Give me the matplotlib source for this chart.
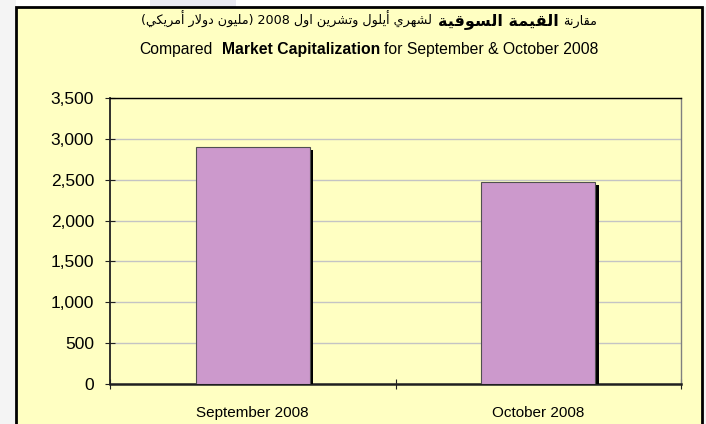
import matplotlib
matplotlib.use('Agg')
import matplotlib.pyplot as plt
import matplotlib.patheffects as pe
from matplotlib.patches import Rectangle
from matplotlib.ticker import FuncFormatter

# data
months = ['September 2008', 'October 2008']
market_cap = [2900, 2470]  # million USD
y_ticks = [0, 500, 1000, 1500, 2000, 2500, 3000, 3500]

# minimal arabic shaping (matplotlib has no bidi / joining support)
FORMS = {  # isolated, final, initial, medial
    'ا': (0xFE8D, 0xFE8E, None, None),
    'أ': (0xFE83, 0xFE84, None, None),
    'ة': (0xFE93, 0xFE94, None, None),
    'ت': (0xFE95, 0xFE96, 0xFE97, 0xFE98),
    'د': (0xFEA9, 0xFEAA, None, None),
    'ر': (0xFEAD, 0xFEAE, None, None),
    'س': (0xFEB1, 0xFEB2, 0xFEB3, 0xFEB4),
    'ش': (0xFEB5, 0xFEB6, 0xFEB7, 0xFEB8),
    'ق': (0xFED5, 0xFED6, 0xFED7, 0xFED8),
    'ك': (0xFED9, 0xFEDA, 0xFEDB, 0xFEDC),
    'ل': (0xFEDD, 0xFEDE, 0xFEDF, 0xFEE0),
    'م': (0xFEE1, 0xFEE2, 0xFEE3, 0xFEE4),
    'ن': (0xFEE5, 0xFEE6, 0xFEE7, 0xFEE8),
    'ه': (0xFEE9, 0xFEEA, 0xFEEB, 0xFEEC),
    'و': (0xFEED, 0xFEEE, None, None),
    'ي': (0xFEF1, 0xFEF2, 0xFEF3, 0xFEF4),
}
LAM_ALEF = {'ا': (0xFEFB, 0xFEFC), 'أ': (0xFEF7, 0xFEF8)}


def vis(word):
    chars = []
    i = 0
    while i < len(word):
        if word[i] == 'ل' and i + 1 < len(word) and word[i + 1] in LAM_ALEF:
            chars.append('LA' + word[i + 1])
            i += 2
        else:
            chars.append(word[i])
            i += 1
    out = []
    for k, c in enumerate(chars):
        prev = chars[k - 1] if k > 0 else None
        nxt = chars[k + 1] if k + 1 < len(chars) else None
        link_prev = prev in FORMS and FORMS[prev][2] is not None
        if c.startswith('LA'):
            iso, fin = LAM_ALEF[c[2]]
            out.append(chr(fin if link_prev else iso))
            continue
        if c not in FORMS:
            out.append(c)
            continue
        f = FORMS[c]
        link_next = f[2] is not None and (nxt in FORMS or (nxt or '').startswith('LA'))
        if link_prev and link_next:
            out.append(chr(f[3]))
        elif link_prev:
            out.append(chr(f[1]))
        elif link_next:
            out.append(chr(f[2]))
        else:
            out.append(chr(f[0]))
    return ''.join(reversed(out))


def vis_phrase(text):
    return ' '.join(vis(w) for w in reversed(text.split(' ')))


title_ar_1 = 'مقارنة'
title_ar_bold = 'القيمة السوقية'
title_ar_2 = 'لشهري أيلول وتشرين اول'
title_ar_year = '2008'
title_ar_unit = 'مليون دولار أمريكي'

W, H = 706, 424
fig = plt.figure(figsize=(W / 100, H / 100), dpi=100, facecolor='#F4F4F4')

# top white strip and chart area
fig.patches.append(Rectangle((16 / W, 1 - 7 / H), 1, 7 / H, transform=fig.transFigure,
                             facecolor='white', edgecolor='none', zorder=-3))
fig.patches.append(Rectangle((150 / W, 1 - 7 / H), 86 / W, 7 / H, transform=fig.transFigure,
                             facecolor='#E9E9F1', edgecolor='none', zorder=-3))
fig.patches.append(Rectangle((16 / W, -0.05), (702 - 16) / W, 1.05 - 7 / H,
                             transform=fig.transFigure, facecolor='#FFFFC2',
                             edgecolor='black', linewidth=2, zorder=-2))

ax = fig.add_axes([110 / W, 1 - 384 / H, (681 - 110) / W, (384 - 98) / H])
ax.set_facecolor('none')

x = range(len(months))
bars = ax.bar(x, market_cap, width=0.4, color='#CC99CC', edgecolor='#505050',
              linewidth=0.8, zorder=3)
for b in bars:
    b.set_path_effects([pe.SimplePatchShadow(offset=(2.4, -2.4), shadow_rgbFace='black',
                                             alpha=1.0), pe.Normal()])

ax.set_xlim(-0.5, 1.5)
ax.set_ylim(0, 3500)
ax.set_yticks(y_ticks)
ax.yaxis.set_major_formatter(FuncFormatter(lambda v, p: f'{int(v):,}'))
ax.grid(axis='y', color='#C4C4C4', linewidth=1, zorder=1)

ax.set_xticks([-0.5, 0.5, 1.5])
ax.set_xticklabels([])
ax.set_xticks(list(x), minor=True)
ax.set_xticklabels(months, minor=True)
ax.tick_params(axis='x', which='major', direction='inout', length=7, width=0.8, color='#202020')
ax.tick_params(axis='x', which='minor', length=0, pad=16, labelsize=11)
ax.tick_params(axis='y', direction='inout', length=7, width=0.8, color='#202020',
               labelsize=12.5, pad=8)

for lbl in ax.get_xticklabels(minor=True) + ax.get_yticklabels():
    lbl.set_fontfamily('Liberation Sans')

ax.spines['left'].set_color('#202020')
ax.spines['left'].set_linewidth(1.3)
ax.spines['bottom'].set_color('#202020')
ax.spines['bottom'].set_linewidth(1.8)
ax.spines['top'].set_color('black')
ax.spines['top'].set_linewidth(1.0)
ax.spines['right'].set_color('#808080')
ax.spines['right'].set_linewidth(1.0)


def rich_line(y_px, parts, cx_px=369):
    texts = []
    for s, gap, kw in parts:
        texts.append((fig.text(0, 1 - y_px / H, s, va='baseline', ha='left', **kw), gap))
    r = fig.canvas.get_renderer()
    widths = [t.get_window_extent(r).width for t, g in texts]
    total = sum(widths) + sum(g for t, g in texts[:-1])
    xp = cx_px - total / 2
    for (t, g), w in zip(texts, widths):
        t.set_x(xp / W)
        xp += w + g


ar_reg = dict(family='DejaVu Sans', fontsize=9.2, color='black')
ar_bold = dict(family='DejaVu Sans', fontsize=11.5, fontweight='bold', color='black')
rich_line(25, [
    ('(' + vis_phrase(title_ar_unit) + ') ' + title_ar_year + ' ' + vis_phrase(title_ar_2), 6, ar_reg),
    (vis_phrase(title_ar_bold), 4, ar_bold),
    (vis_phrase(title_ar_1), 0, ar_reg),
])

en_reg = dict(family='Liberation Sans', fontsize=11.3, color='black')
en_bold = dict(family='Liberation Sans', fontsize=11.3, fontweight='bold', color='black')
rich_line(54, [
    ('Compared', 9, en_reg),
    ('Market Capitalization', 4, en_bold),
    ('for September & October 2008', 0, en_reg),
])

fig.savefig('out.png', dpi=100, facecolor=fig.get_facecolor())
